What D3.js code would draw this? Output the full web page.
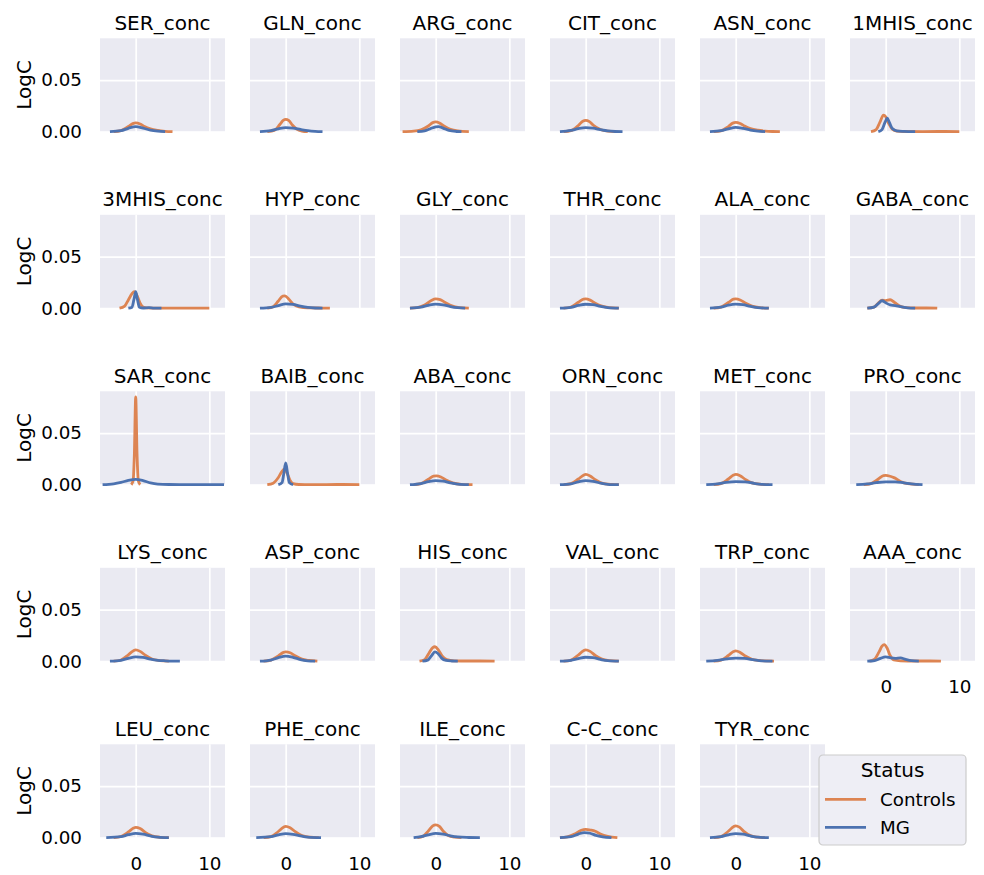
<!DOCTYPE html>
<html>
<head>
<meta charset="utf-8">
<script src="https://cdn.jsdelivr.net/npm/d3@7"></script>
<style>
  body { margin: 0; background: #fff; }
  svg { font-family: "DejaVu Sans", sans-serif; }
</style>
</head>
<body>
<svg id="chart" width="984" height="875"></svg>
<script>
// panel titles, in reading order (6 per row)
const panelNames = [
  "SER_conc", "GLN_conc", "ARG_conc", "CIT_conc", "ASN_conc", "1MHIS_conc",
  "3MHIS_conc", "HYP_conc", "GLY_conc", "THR_conc", "ALA_conc", "GABA_conc",
  "SAR_conc", "BAIB_conc", "ABA_conc", "ORN_conc", "MET_conc", "PRO_conc",
  "LYS_conc", "ASP_conc", "HIS_conc", "VAL_conc", "TRP_conc", "AAA_conc",
  "LEU_conc", "PHE_conc", "ILE_conc", "C-C_conc", "TYR_conc"
];

const statusLabels = ["Controls", "MG"];
const xTicks = [0, 10];
const yTicks = [0, 0.05];

// density curves, [x, LogC] pairs
const controlsCurves = [
  [[-3,0],[-2,.001],[-1,.005],[-.4,.0078],[0,.0085],[.6,.0075],[1.2,.005],[2,.0027],[3,.0012],[4,.0004],[5,0]],
  [[-2.5,0],[-1.5,.0015],[-.8,.007],[-.3,.0112],[0,.012],[.4,.011],[.9,.0065],[1.5,.0025],[2.2,.0006],[3,0]],
  [[-4.5,0],[-3,.0005],[-2,.0018],[-1,.0055],[-.4,.0088],[0,.0095],[.5,.0085],[1,.006],[2,.0022],[3,.0007],[4.5,0]],
  [[-3,0],[-2,.001],[-1,.006],[-.4,.0102],[0,.011],[.5,.0098],[1,.0065],[2,.0022],[3,.0005],[4,0]],
  [[-3,0],[-2,.0008],[-1,.005],[-.4,.0083],[0,.009],[.6,.008],[1.2,.0055],[2,.003],[3,.0014],[4,.0006],[5,.0002],[6,0]],
  [[-2,0],[-1.3,.002],[-.8,.009],[-.3,.016],[0,.0145],[.4,.008],[.9,.0025],[1.5,.0006],[2.5,.0002],[5,.0001],[8,.0002],[10,0]],
  [[-2.2,0],[-1.5,.002],[-1,.008],[-.5,.014],[-.2,.016],[.2,.012],[.6,.005],[1,.0012],[1.5,.0003],[3,.0001],[6,.0001],[10,0]],
  [[-2.5,0],[-1.7,.0015],[-1,.007],[-.4,.0118],[-.1,.012],[.4,.009],[1,.004],[1.8,.0012],[3,.0003],[4.5,.0002],[6,0]],
  [[-3.5,0],[-2.5,.0005],[-1.5,.003],[-.6,.0075],[0,.009],[.6,.0083],[1.3,.0055],[2.2,.0022],[3.2,.0006],[4.5,0]],
  [[-3,0],[-2,.0012],[-1,.0058],[-.3,.0088],[0,.009],[.6,.0078],[1.3,.0048],[2.2,.002],[3.2,.0006],[4.5,0]],
  [[-3,0],[-2,.001],[-1,.0055],[-.3,.0087],[0,.009],[.6,.008],[1.3,.005],[2.2,.002],[3.5,.0004],[4.5,0]],
  [[-2.5,0],[-1.6,.001],[-1,.005],[-.5,.0078],[0,.0074],[.6,.0082],[1.2,.0055],[1.9,.002],[2.8,.0005],[4,.0002],[5.5,.0002],[7,0]],
  [[-.6,0],[-.35,.004],[-.18,.03],[0,.085],[.18,.03],[.35,.004],[.6,0]],
  [[-2.5,0],[-1.7,.0015],[-1,.007],[-.5,.013],[-.2,.015],[.2,.011],[.6,.004],[1,.001],[1.8,.0002],[4,.0001],[7,.0002],[10,0]],
  [[-3,0],[-2,.001],[-1,.0053],[-.3,.0082],[.1,.0085],[.7,.0075],[1.4,.0045],[2.3,.0018],[3.5,.0004],[5,0]],
  [[-3,0],[-2,.001],[-1,.0055],[-.3,.0092],[0,.01],[.6,.0085],[1.3,.0048],[2.2,.0016],[3.5,.0003],[4.5,0]],
  [[-3,0],[-2,.001],[-1,.0055],[-.3,.0093],[0,.01],[.6,.0087],[1.3,.0052],[2.2,.0018],[3.5,.0004],[4.5,0]],
  [[-3,0],[-2,.001],[-1,.0055],[-.3,.0088],[0,.009],[.6,.0082],[1.2,.0066],[2,.0032],[3,.001],[4.5,0]],
  [[-3,0],[-2,.0012],[-1,.0062],[-.3,.0102],[0,.011],[.6,.0095],[1.3,.0058],[2.2,.0022],[3.3,.0006],[4.5,0]],
  [[-3,0],[-2,.001],[-1,.0052],[-.3,.0085],[0,.009],[.6,.0082],[1.3,.0052],[2.2,.002],[3.2,.0007],[4.3,0]],
  [[-2.2,0],[-1.5,.0015],[-.9,.008],[-.4,.0132],[-.1,.014],[.4,.0105],[.9,.005],[1.5,.0015],[2.5,.0003],[4,.0002],[6,.0002],[8,0]],
  [[-3,0],[-2,.0011],[-1,.006],[-.3,.0102],[0,.011],[.6,.0095],[1.3,.0056],[2.2,.002],[3.3,.0005],[4.5,0]],
  [[-3,0],[-2,.001],[-1,.0055],[-.3,.0093],[0,.01],[.6,.0085],[1.3,.005],[2.2,.0019],[3.2,.0007],[4.2,.0003],[5.2,0]],
  [[-2.2,0],[-1.5,.002],[-.9,.009],[-.5,.0145],[-.2,.016],[.2,.0125],[.6,.0055],[1.1,.0012],[2,.0004],[4,.0002],[6,.0002],[7.5,0]],
  [[-3,0],[-2,.0012],[-1,.0055],[-.3,.0093],[0,.01],[.6,.0088],[1.3,.0052],[2.2,.0018],[3.3,.0004],[4.5,0]],
  [[-3,0],[-2,.001],[-1,.006],[-.3,.0102],[0,.011],[.6,.0097],[1.3,.0058],[2.2,.002],[3.3,.0005],[4.5,0]],
  [[-2.5,0],[-1.7,.0015],[-1,.0065],[-.4,.0115],[0,.0125],[.5,.011],[1,.0065],[1.7,.0022],[2.6,.0005],[3.5,0]],
  [[-3.5,0],[-2.5,.0007],[-1.5,.0035],[-.6,.0072],[0,.008],[.7,.0073],[1.3,.0062],[2,.0035],[3,.0012],[4.3,0]],
  [[-3,0],[-2,.001],[-1,.0062],[-.3,.0107],[0,.0115],[.5,.0102],[1.1,.0062],[2,.002],[3,.0005],[4,0]]
];

const mgCurves = [
  [[-3.5,0],[-2,.001],[-1,.0033],[0,.005],[1,.0035],[2,.0015],[3,.0005],[4,0]],
  [[-3.5,0],[-2,.001],[-1,.0028],[0,.004],[1,.0035],[2,.0022],[3,.001],[4,.0003],[5,0]],
  [[-2.5,0],[-1.5,.0008],[-.7,.003],[0,.0047],[.4,.005],[1,.0035],[1.8,.0012],[2.8,.0002],[3.5,0]],
  [[-3.5,0],[-2,.0012],[-1,.003],[0,.004],[1,.0034],[2,.002],[3,.0008],[4,.0002],[5,0]],
  [[-3.5,0],[-2,.001],[-1,.0028],[0,.0042],[1,.0032],[2,.0016],[3,.0006],[4,0]],
  [[-1,0],[-.5,.002],[-.1,.009],[.2,.013],[.5,.009],[.9,.003],[1.5,.0008],[2.5,.0003],[4,0]],
  [[-1,0],[-.5,.001],[-.25,.008],[0,.016],[.25,.008],[.5,.001],[1,.0002],[1.8,.0006],[2.5,.0001],[3.5,0]],
  [[-3.5,0],[-2,.0008],[-1,.0025],[0,.0042],[1,.0036],[2,.002],[3,.0008],[4,.0002],[5,0]],
  [[-3.5,0],[-2,.001],[-1,.0028],[0,.004],[1,.0033],[2,.0016],[3,.0005],[4,0]],
  [[-3.5,0],[-2,.0009],[-1,.0027],[0,.0038],[1,.0034],[2,.0018],[3,.0006],[4.5,0]],
  [[-3.5,0],[-2,.001],[-1,.003],[0,.004],[1,.0034],[2,.0017],[3,.0006],[4.5,0]],
  [[-2.5,0],[-1.6,.001],[-1,.0045],[-.5,.0072],[0,.0052],[.6,.0032],[1.3,.0026],[2,.0015],[3,.0004],[4,0]],
  [[-4.5,0],[-3,.0008],[-2,.0022],[-1,.0042],[0,.0052],[1,.004],[2,.0018],[3,.0006],[4.5,.0002],[7,.0001],[10,.0001],[12,0]],
  [[-1,0],[-.5,.002],[-.25,.011],[0,.021],[.25,.011],[.5,.002],[1,0]],
  [[-3.5,0],[-2,.0011],[-1,.0029],[0,.004],[1,.0035],[2,.0018],[3,.0006],[4.5,0]],
  [[-3.5,0],[-2,.0009],[-1,.0027],[0,.004],[1,.0033],[2,.0015],[3,.0004],[4.5,0]],
  [[-4,0],[-2.5,.0007],[-1.3,.0022],[0,.003],[1.3,.0027],[2.5,.0013],[3.5,.0004],[5,0]],
  [[-4,0],[-2.5,.0007],[-1.3,.002],[0,.0028],[1.3,.0028],[2.5,.0018],[3.5,.0008],[5,0]],
  [[-3.5,0],[-2,.0009],[-1,.0028],[0,.0042],[1,.0036],[2,.002],[3,.0009],[4,.0004],[5,.0001],[6,0]],
  [[-3.5,0],[-2,.0011],[-1,.0034],[0,.005],[1,.0038],[2,.0016],[3,.0004],[4,0]],
  [[-1.8,0],[-1.1,.001],[-.6,.005],[-.1,.009],[.3,.0075],[.8,.003],[1.4,.0008],[2.2,.0002],[3,0]],
  [[-3.5,0],[-2,.0009],[-1,.0026],[0,.0038],[1,.0034],[2,.0017],[3,.0005],[4.5,0]],
  [[-4,0],[-2.5,.0008],[-1.2,.0022],[0,.003],[1.2,.0027],[2.5,.0013],[3.5,.0004],[5,0]],
  [[-2.5,0],[-1.5,.0006],[-.8,.0025],[0,.0042],[.7,.0032],[1.3,.0028],[2,.0032],[2.7,.0018],[3.5,.0005],[4.5,0]],
  [[-4,0],[-2,.001],[-1,.0029],[0,.0042],[1,.0034],[2,.0017],[3,.0005],[4.5,0]],
  [[-4,0],[-2,.001],[-1,.0027],[0,.004],[1,.0033],[2,.0017],[3,.0005],[4.8,0]],
  [[-3,0],[-2,.001],[-1,.0028],[0,.0042],[1,.0035],[2,.0018],[3,.0007],[4.5,.0002],[6,0]],
  [[-3.5,0],[-2,.001],[-1,.0035],[-.2,.005],[.6,.0043],[1.4,.0022],[2.3,.0008],[3.5,0]],
  [[-3.5,0],[-2,.001],[-1,.0028],[0,.004],[1,.0034],[2,.0017],[3,.0005],[4.5,0]]
];

const colors = ["#dd8452", "#4c72b0"];

const grid = {
  cols: 6,
  x0: 100, y0: 38.3,
  xStep: 150, yStep: 176.5,
  w: 125, h: 93.4
};

const x = d3.scaleLinear().domain([-4.85, 12.13]).range([0, grid.w]);
const y = d3.scaleLinear().domain([0, 0.0904]).range([grid.h, 0]);

const line = d3.line()
  .curve(d3.curveMonotoneX)
  .x(d => x(d[0]))
  .y(d => y(d[1]));

const svg = d3.select("#chart");

let panels = panelNames.map((name, i) => ({
  name: name,
  col: i % grid.cols,
  row: Math.floor(i / grid.cols),
  curves: [controlsCurves[i], mgCurves[i]]
}));

const panel = svg.selectAll("g.panel")
  .data(panels)
  .join("g")
    .attr("class", "panel")
    .attr("transform", d => `translate(${grid.x0 + d.col*grid.xStep}, ${grid.y0 + d.row*grid.yStep})`);

panel.append("rect")
  .attr("width", grid.w)
  .attr("height", grid.h)
  .attr("fill", "#eaeaf2");

// gridlines + tick labels
panel.each(function(d) {
  let g = d3.select(this);
  let showY = d.col == 0;
  // bottom axis labels if nothing sits below this panel
  let showX = (d.row + 1) * grid.cols + d.col >= panels.length;

  let ya = g.append("g")
    .call(d3.axisLeft(y).tickValues(yTicks).tickSizeInner(-grid.w).tickSizeOuter(0)
      .tickPadding(18).tickFormat(showY ? d3.format(".2f") : ""));
  let xa = g.append("g")
    .attr("transform", `translate(0, ${grid.h})`)
    .call(d3.axisBottom(x).tickValues(xTicks).tickSizeInner(-grid.h).tickSizeOuter(0)
      .tickPadding(19).tickFormat(showX ? d3.format("d") : ""));

  [ya, xa].forEach(a => {
    a.select(".domain").remove();
    a.selectAll("line").attr("stroke", "#fff").attr("stroke-width", 1.7);
    a.selectAll("text")
      .attr("fill", "#000")
      .style("font-size", "18.3px")
      .style("font-family", "DejaVu Sans, sans-serif");
  });
});

panel.append("g")
  .selectAll("path")
  .data(d => d.curves)
  .join("path")
    .attr("fill", "none")
    .attr("stroke", (d, i) => colors[i])
    .attr("stroke-width", 2.8)
    .attr("stroke-linejoin", "round")
    .attr("d", d => line(d));

panel.append("text")
  .attr("x", grid.w/2)
  .attr("y", -8.8)
  .attr("text-anchor", "middle")
  .style("font-size", "20px")
  .text(d => d.name);

panel.filter(d => d.col == 0)
  .append("text")
    .attr("transform", `translate(-69, ${grid.h/2}) rotate(-90)`)
    .attr("text-anchor", "middle")
    .style("font-size", "20px")
    .text("LogC");

// legend
const legend = svg.append("g")
  .attr("transform", "translate(819, 755)");

legend.append("rect")
  .attr("width", 147)
  .attr("height", 90)
  .attr("rx", 4)
  .attr("fill", "#eeeef5")
  .attr("stroke", "#cccccc")
  .attr("stroke-width", 1.2);

legend.append("text")
  .attr("x", 73.5)
  .attr("y", 22)
  .attr("text-anchor", "middle")
  .style("font-size", "20px")
  .text("Status");

const item = legend.selectAll("g.item")
  .data(statusLabels)
  .join("g")
    .attr("class", "item")
    .attr("transform", (d, i) => `translate(0, ${44.3 + i*28})`);

item.append("line")
  .attr("x1", 6).attr("x2", 47)
  .attr("stroke", (d, i) => colors[i])
  .attr("stroke-width", 2.8);

item.append("text")
  .attr("x", 61)
  .attr("y", 6.8)
  .style("font-size", "18.3px")
  .text(d => d);
</script>
</body>
</html>
